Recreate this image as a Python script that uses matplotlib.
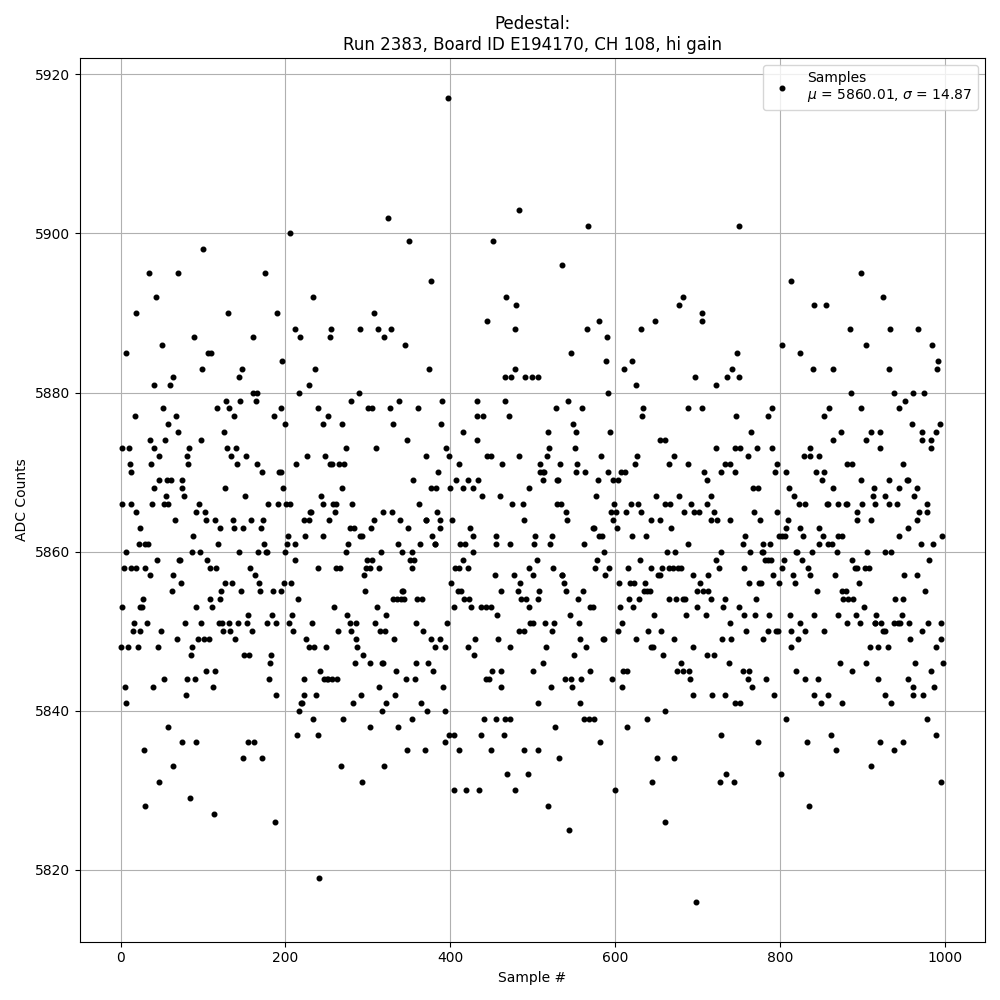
import matplotlib
matplotlib.use("Agg")
import matplotlib.pyplot as plt

s5917 = [397]
s5903 = [484]
s5902 = [325]
s5901 = [567, 751]
s5900 = [206]
s5899 = [350, 452]
s5898 = [100]
s5896 = [535]
s5895 = [34, 69, 175, 898]
s5894 = [377, 813]
s5892 = [43, 234, 468, 683, 925]
s5891 = [480, 678, 841, 856]
s5890 = [19, 130, 190, 308, 705]
s5889 = [445, 581, 649, 706]
s5888 = [212, 255, 290, 312, 328, 478, 566, 632, 885, 934, 968]
s5887 = [89, 161, 218, 254, 320, 590]
s5886 = [50, 345, 802, 904, 985]
s5885 = [7, 106, 110, 546, 748, 824]
s5884 = [196, 589, 621, 992]
s5883 = [99, 147, 236, 374, 479, 611, 742, 840, 864, 932, 991]
s5882 = [63, 144, 467, 474, 491, 499, 507, 697, 736, 750]
s5881 = [41, 60, 229, 626, 723]
s5880 = [161, 166, 217, 289, 591, 886, 938, 962, 975]
s5879 = [128, 145, 164, 280, 338, 390, 433, 466, 543, 952]
s5878 = [51, 117, 131, 195, 240, 300, 305, 327, 361, 528, 560, 634, 689, 706, 790, 860, 899, 944]
s5877 = [17, 67, 138, 186, 252, 433, 440, 471, 633, 747, 785, 853]
s5876 = [57, 200, 246, 269, 331, 389, 549, 960, 994]
s5875 = [69, 125, 416, 518, 553, 594, 765, 874, 910, 921, 972, 989]
s5874 = [35, 54, 97, 348, 432, 654, 661, 864, 905, 972, 983]
s5873 = [1, 10, 40, 83, 129, 140, 273, 310, 395, 520, 551, 723, 746, 752, 772, 790, 836, 921, 983]
s5872 = [46, 80, 134, 152, 226, 248, 371, 399, 445, 450, 483, 517, 583, 627, 671, 761, 829, 837, 847]
s5871 = [11, 37, 82, 141, 166, 213, 254, 256, 265, 271, 410, 463, 509, 533, 554, 624, 665, 688, 734, 739, 796, 881, 888, 950]
s5870 = [13, 172, 192, 194, 385, 509, 512, 514, 553, 563, 591, 607, 612, 708, 729, 746, 794, 808, 844, 853]
s5869 = [47, 56, 61, 74, 355, 407, 422, 434, 512, 529, 531, 579, 598, 604, 711, 851, 898, 932, 954, 955]
s5868 = [40, 75, 127, 197, 269, 376, 383, 400, 416, 428, 495, 767, 773, 811, 865, 914, 944, 966]
s5867 = [55, 77, 151, 243, 439, 460, 577, 650, 678, 717, 817, 913, 928, 963]
s5866 = [1, 12, 38, 52, 58, 95, 179, 191, 201, 206, 245, 258, 261, 281, 362, 475, 488, 529, 534, 599, 619, 628, 661, 667, 692, 712, 823, 831, 857, 859, 870, 880, 882, 900, 915, 933, 942, 979]
s5865 = [18, 91, 102, 230, 231, 260, 318, 329, 384, 540, 595, 601, 613, 632, 684, 696, 702, 720, 769, 796, 894, 969, 978]
s5864 = [66, 103, 114, 136, 158, 173, 223, 228, 253, 308, 339, 370, 371, 387, 402, 490, 542, 598, 644, 655, 716, 724, 740, 776, 810, 893, 910, 966]
s5863 = [23, 120, 138, 148, 170, 278, 283, 304, 349, 388, 424, 573, 574, 602, 668, 807, 824, 847, 956]
s5862 = [88, 203, 224, 246, 291, 293, 378, 427, 456, 503, 523, 581, 584, 621, 638, 758, 799, 802, 806, 828, 852, 871, 876, 945, 997]
s5861 = [22, 29, 33, 118, 174, 202, 211, 276, 337, 363, 381, 382, 412, 418, 456, 473, 502, 521, 562, 689, 755, 779, 788, 848, 858, 863, 971, 986]
s5860 = [6, 86, 96, 144, 167, 176, 178, 200, 273, 316, 342, 354, 428, 587, 663, 673, 729, 764, 778, 779, 819, 821, 839, 869, 906, 927, 935]
s5859 = [44, 71, 72, 105, 212, 299, 305, 351, 356, 415, 505, 578, 630, 722, 782, 786, 789, 805, 827, 887, 981]
s5858 = [4, 12, 18, 30, 108, 116, 157, 240, 261, 266, 298, 303, 314, 353, 406, 411, 422, 496, 525, 576, 593, 616, 643, 657, 666, 670, 676, 680, 726, 757, 802, 834, 891, 893, 903, 908]
s5857 = [35, 64, 163, 295, 454, 477, 501, 535, 536, 588, 652, 654, 694, 713, 792, 816, 836, 867, 951, 967]
s5856 = [73, 127, 135, 168, 198, 207, 401, 485, 538, 605, 618, 623, 636, 703, 762, 775, 777, 799, 818, 896]
s5855 = [62, 122, 146, 169, 185, 195, 297, 342, 343, 409, 413, 462, 482, 508, 540, 561, 635, 639, 642, 700, 707, 713, 845, 876, 880, 976]
s5854 = [27, 108, 120, 215, 331, 335, 340, 344, 360, 366, 417, 423, 486, 492, 507, 555, 617, 629, 666, 674, 682, 685, 717, 734, 771, 877, 883, 889, 940, 949]
s5853 = [2, 23, 26, 92, 111, 259, 311, 405, 425, 437, 443, 450, 496, 570, 573, 606, 622, 700, 731, 751, 902]
s5852 = [155, 184, 208, 275, 322, 457, 545, 647, 686, 710, 757, 770, 787, 812, 841, 870, 892, 917, 948]
s5851 = [16, 32, 78, 97, 119, 123, 131, 142, 153, 178, 189, 204, 232, 278, 286, 309, 359, 396, 497, 500, 515, 526, 556, 608, 740, 825, 881, 897, 915, 916, 923, 938, 943, 946, 957, 980, 995]
s5850 = [15, 24, 49, 124, 133, 159, 209, 264, 280, 315, 321, 367, 484, 490, 523, 604, 640, 656, 759, 785, 795, 798, 814, 830, 854, 925, 928, 973]
s5849 = [68, 94, 101, 107, 139, 225, 286, 332, 377, 388, 430, 458, 557, 585, 587, 626, 672, 730, 741, 780, 822, 958, 995]
s5848 = [0, 9, 21, 45, 86, 229, 235, 249, 287, 382, 394, 421, 472, 516, 565, 644, 646, 695, 813, 909, 919, 931, 989]
s5847 = [85, 150, 156, 183, 294, 429, 550, 658, 712, 720]
s5846 = [181, 284, 303, 317, 318, 359, 373, 513, 680, 738, 873, 904, 964, 998]
s5845 = [103, 114, 242, 334, 379, 451, 461, 501, 570, 610, 615, 675, 683, 690, 755, 762, 819, 887, 984]
s5844 = [52, 80, 90, 180, 223, 247, 250, 251, 256, 262, 346, 357, 443, 447, 539, 546, 559, 596, 691, 761, 783, 830, 846, 919, 955]
s5843 = [5, 39, 112, 314, 391, 462, 522, 548, 608, 766, 961, 987]
s5842 = [79, 189, 222, 237, 292, 333, 694, 718, 733, 793, 842, 858, 927, 961, 974]
s5841 = [6, 219, 220, 282, 322, 365, 506, 557, 745, 752, 850, 875, 935]
s5840 = [217, 317, 372, 393, 661]
s5839 = [234, 270, 354, 441, 455, 467, 473, 562, 568, 574, 639, 807, 978]
s5838 = [57, 303, 337, 527, 615]
s5837 = [214, 239, 399, 404, 437, 465, 728, 862, 990]
s5836 = [74, 91, 155, 162, 394, 582, 773, 833, 922, 949]
s5835 = [28, 348, 369, 411, 449, 489, 507, 868, 939]
s5834 = [148, 172, 532, 651, 672]
s5833 = [63, 267, 320, 911]
s5832 = [469, 494, 735, 801]
s5831 = [46, 293, 645, 727, 744, 996]
s5830 = [405, 419, 435, 479, 600]
s5829 = [84]
s5828 = [29, 519, 835]
s5827 = [113]
s5826 = [187, 660]
s5825 = [544]
s5819 = [241]
s5816 = [698]

levels = [
    (5917, s5917), (5903, s5903), (5902, s5902), (5901, s5901), (5900, s5900), (5899, s5899),
    (5898, s5898), (5896, s5896), (5895, s5895), (5894, s5894), (5892, s5892), (5891, s5891),
    (5890, s5890), (5889, s5889), (5888, s5888), (5887, s5887), (5886, s5886), (5885, s5885),
    (5884, s5884), (5883, s5883), (5882, s5882), (5881, s5881), (5880, s5880), (5879, s5879),
    (5878, s5878), (5877, s5877), (5876, s5876), (5875, s5875), (5874, s5874), (5873, s5873),
    (5872, s5872), (5871, s5871), (5870, s5870), (5869, s5869), (5868, s5868), (5867, s5867),
    (5866, s5866), (5865, s5865), (5864, s5864), (5863, s5863), (5862, s5862), (5861, s5861),
    (5860, s5860), (5859, s5859), (5858, s5858), (5857, s5857), (5856, s5856), (5855, s5855),
    (5854, s5854), (5853, s5853), (5852, s5852), (5851, s5851), (5850, s5850), (5849, s5849),
    (5848, s5848), (5847, s5847), (5846, s5846), (5845, s5845), (5844, s5844), (5843, s5843),
    (5842, s5842), (5841, s5841), (5840, s5840), (5839, s5839), (5838, s5838), (5837, s5837),
    (5836, s5836), (5835, s5835), (5834, s5834), (5833, s5833), (5832, s5832), (5831, s5831),
    (5830, s5830), (5829, s5829), (5828, s5828), (5827, s5827), (5826, s5826), (5825, s5825),
    (5819, s5819), (5816, s5816),
]

xs = []
ys = []
for adc, samples in levels:
    xs.extend(samples)
    ys.extend([adc] * len(samples))
order = sorted(range(len(xs)), key=lambda i: xs[i])
xs = [xs[i] for i in order]
ys = [ys[i] for i in order]

fig, ax = plt.subplots(figsize=(10, 10), dpi=100)
ax.plot(xs, ys, "k.", markersize=6.6, label="Samples\n$\\mu$ = 5860.01, $\\sigma$ = 14.87")
ax.set_xlim(-49.95, 1048.95)
ax.set_ylim(5810.95, 5922.05)
ax.grid(True)
ax.set_xlabel("Sample #")
ax.set_ylabel("ADC Counts")
ax.set_title("Pedestal:\nRun 2383, Board ID E194170, CH 108, hi gain")
ax.legend(loc="upper right")
fig.tight_layout()
fig.savefig("out.png", dpi=100)
